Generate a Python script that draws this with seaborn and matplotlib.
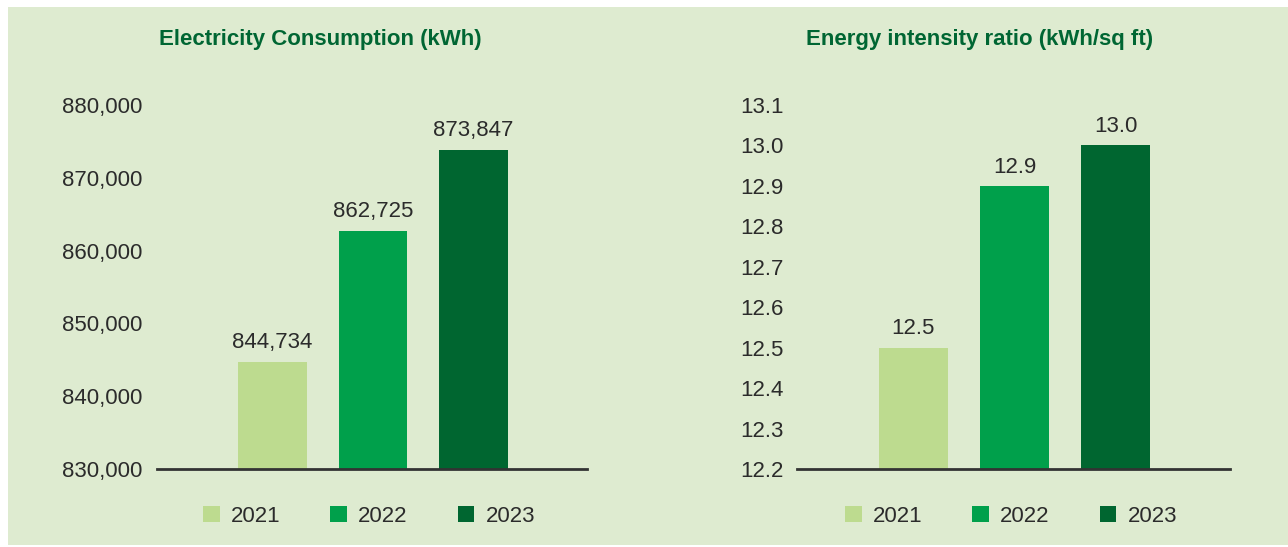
import pandas as pd
import seaborn as sns
import matplotlib.pyplot as plt
from matplotlib.patches import Patch

years = ["2021", "2022", "2023"]
electricity_kwh = [844734, 862725, 873847]
intensity_ratio = [12.5, 12.9, 13.0]
electricity_labels = ["844,734", "862,725", "873,847"]
intensity_labels = ["12.5", "12.9", "13.0"]
electricity_ticks = [830000, 840000, 850000, 860000, 870000, 880000]
intensity_ticks = [12.2, 12.3, 12.4, 12.5, 12.6, 12.7, 12.8, 12.9, 13.0, 13.1]

colors = ["#bddb8f", "#00a04b", "#006630"]
bg = "#deebd0"
title_color = "#006633"
text_color = "#2b2b2b"

sns.set_style("white")
plt.rcParams['font.family'] = ['Liberation Sans', 'DejaVu Sans']

fig = plt.figure(figsize=(12.88, 5.47), dpi=100)
fig.patch.set_facecolor("white")
fig.patches.append(plt.Rectangle((8 / 1288, 2 / 547), 1, 1 - 9 / 547,
                                 transform=fig.transFigure, facecolor=bg,
                                 edgecolor="none", zorder=-10))


def draw_panel(left, right, values, labels, ticks, ylim, fmt, title, title_x,
               legend_x, pad):
    W, H = 1288, 547
    ax = fig.add_axes([left / W, 1 - 469 / H, (right - left) / W, (469 - 105) / H])
    ax.set_facecolor("none")
    df = pd.DataFrame({"year": years, "value": values})
    sns.barplot(data=df, x="year", y="value", hue="year", palette=colors,
                dodge=False, width=0.683, legend=False, saturation=1,
                linewidth=0, ax=ax)
    ax.set_ylim(*ylim)
    ax.set_xlim(-1.15, 3.13)
    ax.set_yticks(ticks)
    ax.set_yticklabels([fmt(t) for t in ticks], fontsize=16, color=text_color)
    ax.tick_params(axis="y", length=0, pad=pad)
    ax.set_xticks([])
    ax.set_xlabel("")
    ax.set_ylabel("")
    for s in ["top", "right", "left"]:
        ax.spines[s].set_visible(False)
    ax.spines["bottom"].set_color("#333333")
    ax.spines["bottom"].set_linewidth(2)
    for i, (v, lab) in enumerate(zip(values, labels)):
        ax.annotate(lab, (i, v), xytext=(0, 6), textcoords="offset points",
                    ha="center", va="bottom", fontsize=16, color=text_color)
    fig.text(title_x / W, 1 - 40 / H, title, ha="center", va="center",
             fontsize=16, fontweight="bold", color=title_color)
    handles = [Patch(facecolor=c, edgecolor="none") for c in colors]
    fig.legend(handles, years, loc="center", ncol=3, frameon=False,
               bbox_to_anchor=(legend_x / W, 1 - 516 / H), fontsize=16,
               handlelength=0.75, handleheight=0.75, handletextpad=0.5,
               columnspacing=2.25, labelcolor=text_color)
    return ax


draw_panel(157, 587, electricity_kwh, electricity_labels, electricity_ticks,
           (830000, 880000), lambda t: f"{t:,.0f}",
           "Electricity Consumption (kWh)", 320, 369, 10.5)
draw_panel(797, 1230, intensity_ratio, intensity_labels, intensity_ticks,
           (12.2, 13.1), lambda t: f"{t:.1f}",
           "Energy intensity ratio (kWh/sq ft)", 980, 1011, 9.5)

fig.savefig("out.png", dpi=100, facecolor=fig.get_facecolor())
